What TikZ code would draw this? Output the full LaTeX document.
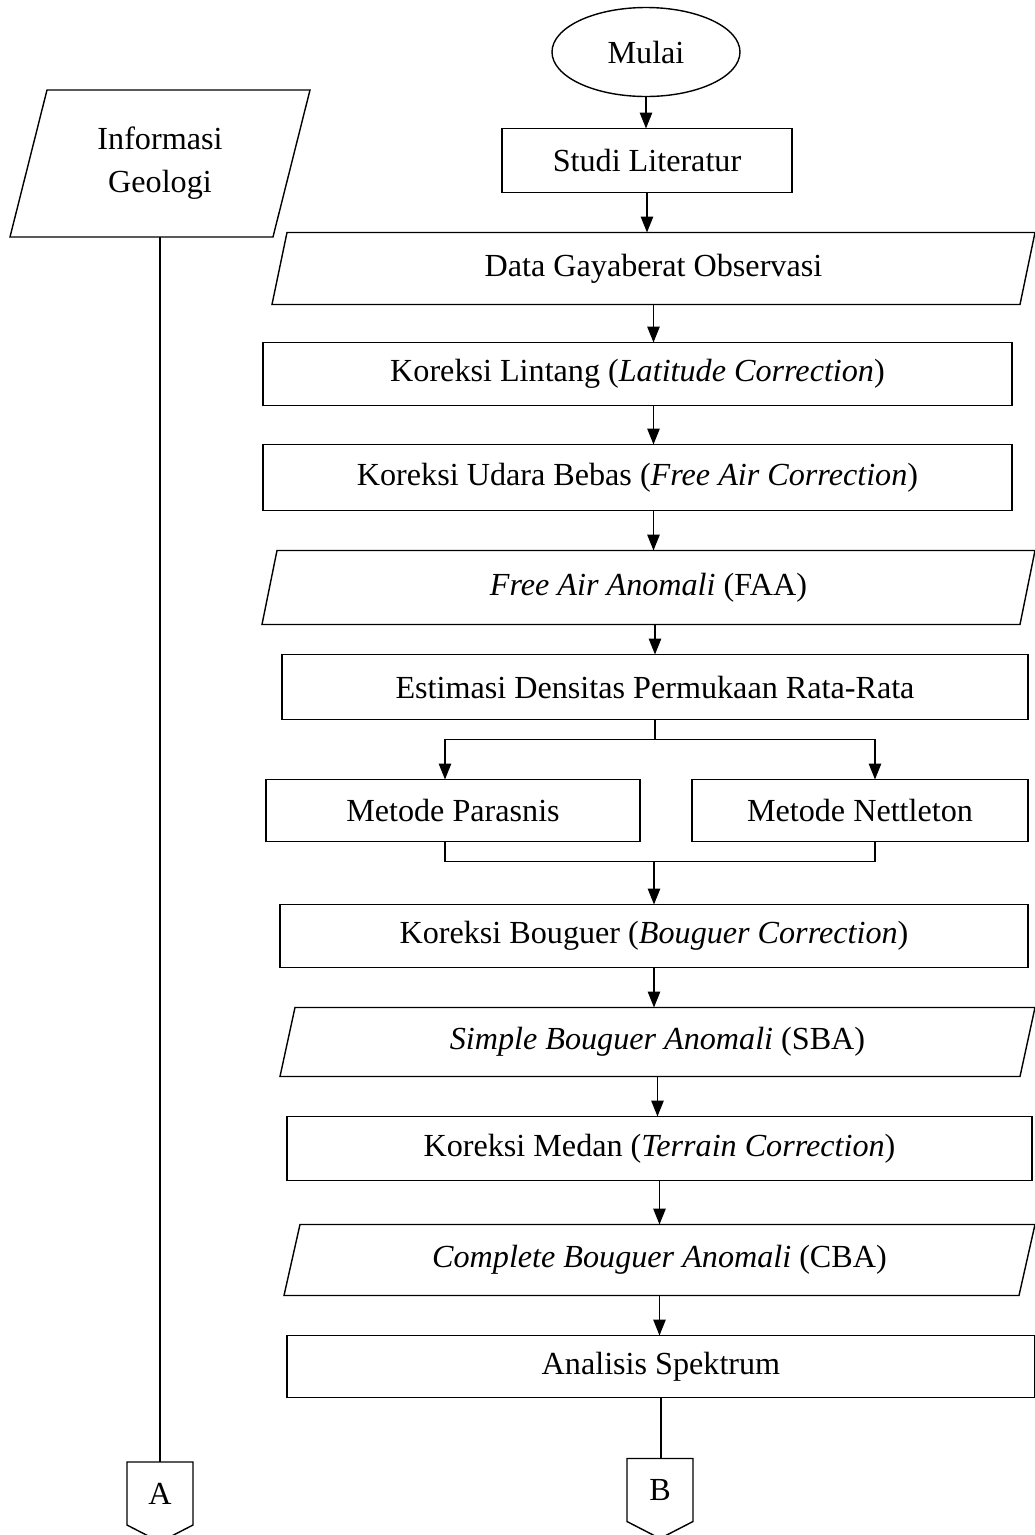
\documentclass[tikz,border=0pt]{standalone}
\usepackage{fontspec}
\setmainfont{Liberation Serif}
\usetikzlibrary{shapes.geometric, arrows.meta, positioning}

\tikzset{
	base/.style = {draw, line width=0.8pt, outer sep=0pt, font=\fontsize{18.3}{24.5}\selectfont, align=center},
	startstop/.style = {base, ellipse, minimum width=3.76cm, minimum height=1.78cm, inner sep=0pt},
	block/.style = {base, rectangle, minimum height=1.28cm},
	io/.style = {base, rectangle, draw=none, minimum height=1.44cm,
		append after command={\pgfextra{\draw [line width=0.8pt] ([xshift=#1]\tikzlastnode.north west) -- (\tikzlastnode.north east) -- ([xshift=-#1]\tikzlastnode.south east) -- (\tikzlastnode.south west) -- cycle;}}},
	io/.default = 0.3cm,
	connector/.style = {base, rectangle, draw=none, minimum width=1.32cm, minimum height=1.26cm,
		append after command={\pgfextra{\draw [line width=0.8pt] (\tikzlastnode.north west) -- (\tikzlastnode.north east) -- (\tikzlastnode.south east) -- ([yshift=-0.34cm]\tikzlastnode.south) -- (\tikzlastnode.south west) -- cycle;}}},
	line/.style = {draw, line width=0.8pt, -{Triangle[width=7pt, length=9pt]}},
	link/.style = {draw, line width=0.8pt}
}

\begin{document}
\begin{tikzpicture}[node distance = 0.8cm, auto]
	\useasboundingbox (-12.92,1.04) rectangle (7.78,-29.66);
	\node [startstop] (mulai) {Mulai};
	\node [block, below = 0.64cm of mulai, minimum width = 5.8cm, xshift = 0.02cm] (studi) {Studi Literatur};
	\node [io, below = 0.8cm of studi, minimum width = 15.26cm, xshift = 0.13cm] (data) {Data Gayaberat Observasi};
	\node [block, below = 0.76cm of data, minimum width = 14.98cm, minimum height = 1.26cm, xshift = -0.32cm] (lintang) {Koreksi Lintang (\textit{Latitude Correction})};
	\node [block, below = 0.78cm of lintang, minimum width = 14.98cm, minimum height = 1.32cm] (udara) {Koreksi Udara Bebas (\textit{Free Air Correction})};
	\node [io, below = 0.8cm of udara, minimum width = 15.46cm, minimum height = 1.48cm, xshift = 0.22cm] (faa) {\textit{Free Air Anomali} (FAA)};
	\node [block, below = 0.6cm of faa, minimum width = 14.92cm, minimum height = 1.3cm, xshift = 0.13cm] (estimasi) {Estimasi Densitas Permukaan Rata-Rata};
	\node [block, below = 1.2cm of estimasi.south west, anchor = north west, minimum width = 7.48cm, minimum height = 1.24cm, xshift = -0.32cm] (parasnis) {Metode Parasnis};
	\node [block, below = 1.2cm of estimasi.south east, anchor = north east, minimum width = 6.72cm, minimum height = 1.24cm] (nettleton) {Metode Nettleton};
	\node [block, below = 3.7cm of estimasi, minimum width = 14.96cm, minimum height = 1.26cm, xshift = -0.02cm] (bouguer) {Koreksi Bouguer (\textit{Bouguer Correction})};
	\node [io, below = 0.8cm of bouguer, minimum width = 15.1cm, minimum height = 1.38cm, xshift = 0.07cm] (sba) {\textit{Simple Bouguer Anomali} (SBA)};
	\node [block, below = 0.8cm of sba, minimum width = 14.9cm, minimum height = 1.28cm, xshift = 0.04cm] (medan) {Koreksi Medan (\textit{Terrain Correction})};
	\node [io = 0.32cm, below = 0.88cm of medan, minimum width = 15.02cm, minimum height = 1.42cm] (cba) {\textit{Complete Bouguer Anomali} (CBA)};
	\node [block, below = 0.8cm of cba, minimum width = 14.96cm, minimum height = 1.24cm, xshift = 0.03cm] (analisis) {Analisis Spektrum};
	\node [connector, below = 1.22cm of analisis, xshift = -0.02cm] (connB) {B};
	
	\node [io = 0.74cm, left = 9.74cm of studi.center, anchor = center, yshift = -0.06cm, minimum width = 6cm, minimum height = 2.94cm] (info) {Informasi\\Geologi};
	\node [connector, below = 24.5cm of info] (connA) {A};
	
	\coordinate [below = 0.4cm of estimasi.south] (split);
	\coordinate [below = 0.4cm of parasnis.south -| bouguer] (join);
	
	\path [line] (mulai) -- (mulai |- studi.north);
	\path [line] (studi) -- (studi |- data.north);
	\path [line] (data) -- (data |- lintang.north);
	\path [line] (data |- lintang.south) -- (data |- udara.north);
	\path [line] (data |- udara.south) -- (data |- faa.north);
	\path [line] (estimasi |- faa.south) -- (estimasi);
	\path [link] (estimasi) -- (split);
	\path [line] (split) -| ([xshift = -0.16cm] parasnis.north);
	\path [line] (split) -| ([xshift = 0.3cm] nettleton.north);
	\path [link] ([xshift = -0.16cm] parasnis.south) |- (join) -| ([xshift = 0.3cm] nettleton.south);
	\path [line] (join) -- (join |- bouguer.north);
	\path [line] (bouguer) -- (bouguer |- sba.north);
	\path [line] (sba) -- (sba |- medan.north);
	\path [line] (medan) -- (medan |- cba.north);
	\path [line] (cba) -- (cba |- analisis.north);
	\path [link] (analisis) -- (analisis |- connB.north);
	\path [link] (info) -- (info |- connA.north);
\end{tikzpicture}
\end{document}
